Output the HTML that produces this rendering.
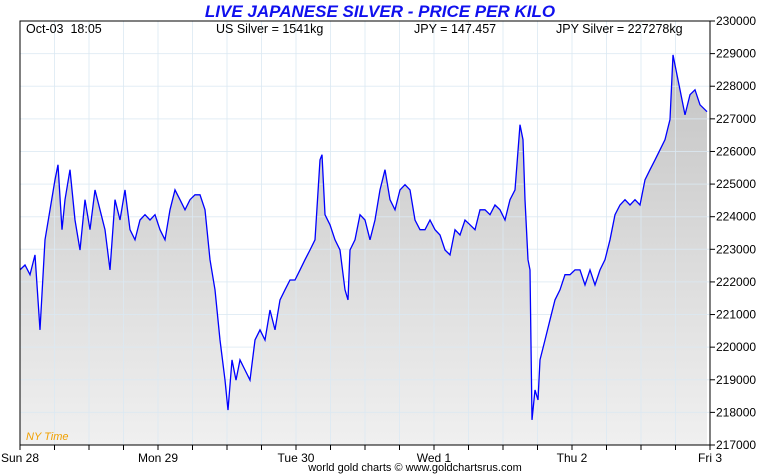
<!DOCTYPE html>
<html><head><meta charset="utf-8">
<style>
body{margin:0;background:#fff;width:760px;height:475px;overflow:hidden;font-family:"Liberation Sans",sans-serif}
svg{display:block}
</style></head>
<body>
<svg id="chart" width="760" height="475" xmlns="http://www.w3.org/2000/svg" font-family="Liberation Sans, sans-serif"></svg>
<script>
const dayLabels=["Sun 28","Mon 29","Tue 30","Wed 1","Thu 2","Fri 3"];
const yTicks=[217000,218000,219000,220000,221000,222000,223000,224000,225000,226000,227000,228000,229000,230000];
const xPix=[20,25,30,35,40,45,50,55,58,62,65,70,75,80,85,90,95,100,105,110,115,120,125,130,135,140,145,150,155,160,165,170,175,180,185,190,195,200,205,210,215,220,225,228,232,236,240,245,250,255,260,265,270,275,280,285,290,295,300,305,310,315,320,322,325,330,335,340,345,348,350,355,360,365,370,375,380,385,390,395,400,405,410,415,420,425,430,435,440,445,450,455,460,465,470,475,480,485,490,495,500,505,510,515,520,523,525,528,530,532,535,538,540,545,550,555,560,565,570,575,580,585,590,595,600,605,610,615,620,625,630,635,640,645,650,655,660,665,670,673,675,680,685,690,695,700,705,707];
const times=xPix.map(x=>+((x-20)/138).toFixed(4)); // days since Sun 28
const prices=[222370,222520,222220,222830,220530,223290,224210,225130,225590,223600,224520,225440,223900,222980,224520,223600,224820,224210,223600,222370,224520,223900,224820,223600,223290,223900,224060,223900,224060,223600,223290,224210,224820,224520,224210,224520,224670,224670,224210,222680,221760,220220,218990,218070,219610,218990,219610,219300,218990,220220,220530,220220,221140,220530,221450,221760,222060,222060,222370,222680,222980,223290,225740,225900,224060,223750,223290,222980,221760,221450,222980,223290,224060,223900,223290,223900,224820,225440,224520,224210,224820,224980,224820,223900,223600,223600,223900,223600,223440,222980,222830,223600,223440,223900,223750,223600,224210,224210,224060,224360,224210,223900,224520,224820,226820,226360,224520,222680,222370,217770,218690,218380,219610,220220,220840,221450,221760,222220,222220,222370,222370,221910,222370,221910,222370,222680,223290,224060,224360,224520,224360,224520,224360,225130,225440,225740,226050,226360,226980,228960,228650,227890,227120,227740,227890,227430,227280,227220];
const L=20,R=710,T=21,B=445,minV=217000,maxV=230000;
const xs=d=>L+d/5*(R-L);
const ys=v=>B-(v-minV)/(maxV-minV)*(B-T);
const NS="http://www.w3.org/2000/svg";
const svg=document.getElementById('chart');
function mk(tag,attrs,parent){const e=document.createElementNS(NS,tag);for(const k in attrs)e.setAttribute(k,attrs[k]);(parent||svg).appendChild(e);return e;}
const defs=mk('defs',{});
const g=mk('linearGradient',{id:'fillg',x1:0,y1:0,x2:0,y2:1},defs);
mk('stop',{offset:'0','stop-color':'#c4c4c4'},g);
mk('stop',{offset:'1','stop-color':'#f0f0f0'},g);
// area
let d='M'+xs(times[0])+','+B;
times.forEach((t,i)=>{d+=' L'+xs(t).toFixed(1)+','+ys(prices[i]).toFixed(1);});
d+=' L'+xs(times[times.length-1])+','+B+' Z';
const area=mk('path',{d:d,fill:'url(#fillg)'});


// grid
for(let i=1;i<20;i++){const x=L+i*(R-L)/20;const gl=mk('line',{x1:x,x2:x,y1:T,y2:B,stroke:'#dbe8f3','stroke-width':1,'stroke-opacity':0.8});

}
yTicks.forEach(v=>{const y=ys(v);const gl=mk('line',{x1:L,x2:R,y1:y,y2:y,stroke:'#dbe8f3','stroke-width':1,'stroke-opacity':0.8});


const tk=mk('line',{x1:R,x2:R+5,y1:y,y2:y,stroke:'#000'});


const tx=mk('text',{x:R+6,y:y+4,'font-size':12,fill:'#000'});tx.textContent=v;

});
// line
let ld='';times.forEach((t,i)=>{ld+=(i?' L':'M')+xs(t).toFixed(1)+','+ys(prices[i]).toFixed(1);});
const line=mk('path',{d:ld,fill:'none',stroke:'#0000ff','stroke-width':1.3});


// frame
const fr=mk('rect',{x:L,y:T,width:R-L,height:B-T,fill:'none',stroke:'#000','stroke-width':1});


// x ticks
for(let i=0;i<=20;i++){const x=L+i*(R-L)/20;const tk=mk('line',{x1:x,x2:x,y1:B,y2:B+5,stroke:'#000'});

}
dayLabels.forEach((lab,i)=>{const x=xs(i);const tx=mk('text',{x:x,y:B+17,'font-size':12,'text-anchor':'middle',fill:'#000'});tx.textContent=lab;

});
</script>
<div style="position:absolute;left:0;top:0;width:760px;height:475px;pointer-events:none">
<div style="position:absolute;left:0;width:760px;top:2px;text-align:center;font:italic bold 17px 'Liberation Sans',sans-serif;color:#1010ee">LIVE JAPANESE SILVER - PRICE PER KILO</div>
<div style="position:absolute;left:26px;top:22px;font-size:12.5px">Oct-03&nbsp; 18:05</div>
<div style="position:absolute;left:216px;top:22px;font-size:12.5px">US Silver = 1541kg</div>
<div style="position:absolute;left:414px;top:22px;font-size:12.5px">JPY = 147.457</div>
<div style="position:absolute;left:556px;top:22px;font-size:12.5px">JPY Silver = 227278kg</div>
<div style="position:absolute;left:26px;top:431px;font:italic 11px 'Liberation Sans',sans-serif;color:#f0a000">NY Time</div>
<div style="position:absolute;left:0;width:830px;top:462px;text-align:center;font-size:11px">world gold charts © www.goldchartsrus.com</div>
</div>
</body></html>
